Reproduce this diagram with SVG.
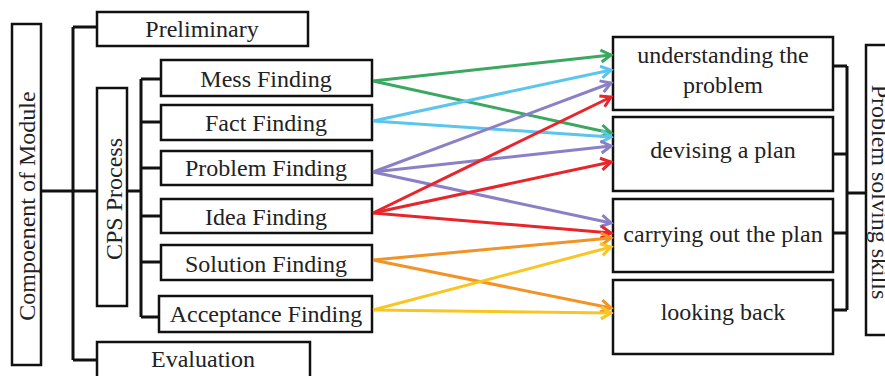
<svg xmlns="http://www.w3.org/2000/svg" width="885" height="376" viewBox="0 0 885 376">
<style>
.box{fill:#fff;stroke:#111;stroke-width:2.5}
.t{font-family:"Liberation Serif","Times New Roman",serif;font-size:24px;fill:#222;text-anchor:middle}
.tree{fill:none;stroke:#111;stroke-width:3}
.a{fill:none;stroke-width:3}
</style>
<defs>
<marker id="mg" markerUnits="userSpaceOnUse" markerWidth="20" markerHeight="20" viewBox="-12 -10 14 20" refX="0" refY="0" orient="auto"><path d="M-10,-6 L0,0 L-10,6" fill="none" stroke="#3aa860" stroke-width="3"/></marker>
<marker id="mc" markerUnits="userSpaceOnUse" markerWidth="20" markerHeight="20" viewBox="-12 -10 14 20" refX="0" refY="0" orient="auto"><path d="M-10,-6 L0,0 L-10,6" fill="none" stroke="#5cc5ee" stroke-width="3"/></marker>
<marker id="mp" markerUnits="userSpaceOnUse" markerWidth="20" markerHeight="20" viewBox="-12 -10 14 20" refX="0" refY="0" orient="auto"><path d="M-10,-6 L0,0 L-10,6" fill="none" stroke="#8b7fc6" stroke-width="3"/></marker>
<marker id="mr" markerUnits="userSpaceOnUse" markerWidth="20" markerHeight="20" viewBox="-12 -10 14 20" refX="0" refY="0" orient="auto"><path d="M-10,-6 L0,0 L-10,6" fill="none" stroke="#e8252b" stroke-width="3"/></marker>
<marker id="mo" markerUnits="userSpaceOnUse" markerWidth="20" markerHeight="20" viewBox="-12 -10 14 20" refX="0" refY="0" orient="auto"><path d="M-10,-6 L0,0 L-10,6" fill="none" stroke="#f29325" stroke-width="3"/></marker>
<marker id="my" markerUnits="userSpaceOnUse" markerWidth="20" markerHeight="20" viewBox="-12 -10 14 20" refX="0" refY="0" orient="auto"><path d="M-10,-6 L0,0 L-10,6" fill="none" stroke="#f8c623" stroke-width="3"/></marker>
</defs>
<rect width="885" height="376" fill="#fff"/>
<g id="tree-connectors">
<path class="tree" d="M41,191 H73 M73,27 V360 M73,27 H97 M73,360 H97 M73,191 H97"/>
<path class="tree" d="M127,191 H141 M141,79 V317 M141,79 H161 M141,122 H161 M141,168 H161 M141,216 H161 M141,262 H161 M141,317 H159"/>
<path class="tree" d="M833,66 H847 M833,154 H847 M833,233 H847 M833,310 H847 M847,66 V310 M847,193 H866"/>
</g>
<g id="module"><rect class="box" x="12" y="24" width="29" height="341"/><text class="t" transform="translate(35,206) rotate(-90)">Compoenent of Module</text></g>
<g id="preliminary"><rect class="box" x="97" y="12" width="211" height="34"/><text class="t" x="202" y="37">Preliminary</text></g>
<g id="cps"><rect class="box" x="97" y="88" width="30" height="218"/><text class="t" transform="translate(122,199) rotate(-90)">CPS Process</text></g>
<g id="evaluation"><rect class="box" x="97" y="342" width="213" height="40"/><text class="t" x="203" y="367">Evaluation</text></g>
<g id="mess"><rect class="box" x="161" y="60" width="211" height="36"/><text class="t" x="266" y="87">Mess Finding</text></g>
<g id="fact"><rect class="box" x="161" y="105" width="211" height="35"/><text class="t" x="266" y="131">Fact Finding</text></g>
<g id="problem"><rect class="box" x="161" y="151" width="211" height="34"/><text class="t" x="266" y="176">Problem Finding</text></g>
<g id="idea"><rect class="box" x="161" y="199" width="211" height="34"/><text class="t" x="266" y="225">Idea Finding</text></g>
<g id="solution"><rect class="box" x="161" y="245" width="211" height="35"/><text class="t" x="266" y="272">Solution Finding</text></g>
<g id="acceptance"><rect class="box" x="159" y="296" width="213" height="36"/><text class="t" x="266" y="322">Acceptance Finding</text></g>
<g id="understanding"><rect class="box" x="613" y="37" width="220" height="73"/><text class="t" x="723" y="63">understanding the</text><text class="t" x="723" y="93">problem</text></g>
<g id="devising"><rect class="box" x="613" y="117" width="220" height="74"/><text class="t" x="723" y="158">devising a plan</text></g>
<g id="carrying"><rect class="box" x="613" y="199" width="220" height="73"/><text class="t" x="723" y="242">carrying out the plan</text></g>
<g id="looking"><rect class="box" x="613" y="280" width="220" height="74"/><text class="t" x="723" y="320">looking back</text></g>
<g id="skills"><rect class="box" x="866" y="45" width="30" height="290"/><text class="t" transform="translate(872,192) rotate(90)">Problem solving skills</text></g>
<g id="arrows">
<line class="a" stroke="#3aa860" x1="373" y1="81" x2="611" y2="55" marker-end="url(#mg)"/>
<line class="a" stroke="#3aa860" x1="373" y1="81" x2="611" y2="133" marker-end="url(#mg)"/>
<line class="a" stroke="#5cc5ee" x1="373" y1="121" x2="611" y2="70" marker-end="url(#mc)"/>
<line class="a" stroke="#5cc5ee" x1="373" y1="121" x2="611" y2="137" marker-end="url(#mc)"/>
<line class="a" stroke="#8b7fc6" x1="373" y1="172" x2="611" y2="83" marker-end="url(#mp)"/>
<line class="a" stroke="#8b7fc6" x1="373" y1="172" x2="611" y2="146" marker-end="url(#mp)"/>
<line class="a" stroke="#8b7fc6" x1="373" y1="172" x2="611" y2="223" marker-end="url(#mp)"/>
<line class="a" stroke="#e8252b" x1="373" y1="213" x2="611" y2="97" marker-end="url(#mr)"/>
<line class="a" stroke="#e8252b" x1="373" y1="213" x2="611" y2="162" marker-end="url(#mr)"/>
<line class="a" stroke="#e8252b" x1="373" y1="213" x2="611" y2="233" marker-end="url(#mr)"/>
<line class="a" stroke="#f29325" x1="373" y1="260" x2="611" y2="238" marker-end="url(#mo)"/>
<line class="a" stroke="#f29325" x1="373" y1="260" x2="611" y2="308" marker-end="url(#mo)"/>
<line class="a" stroke="#f8c623" x1="373" y1="310" x2="611" y2="247" marker-end="url(#my)"/>
<line class="a" stroke="#f8c623" x1="373" y1="310" x2="611" y2="313" marker-end="url(#my)"/>
</g>
</svg>
